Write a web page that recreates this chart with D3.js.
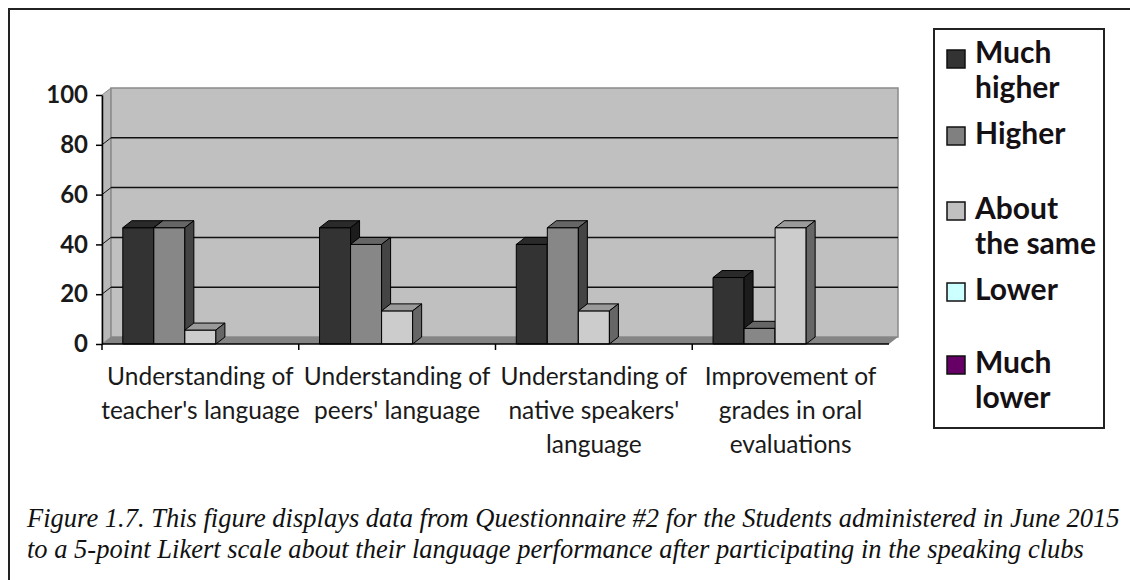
<!DOCTYPE html>
<html>
<head>
<meta charset="utf-8">
<script src="https://cdn.jsdelivr.net/npm/d3@7"></script>
<style>
  body { margin: 0; background: #fff; }
  svg { display: block; }
</style>
</head>
<body>
<div id="chart"></div>
<script>
// data (percent of students)
var categories = ["teacher", "peers", "native", "grades"];
var categoryLines = [
  ["Understanding of", "teacher's language"],
  ["Understanding of", "peers' language"],
  ["Understanding of", "native speakers'", "language"],
  ["Improvement of", "grades in oral", "evaluations"]
];
var seriesNames = ["Much higher", "Higher", "About the same", "Lower", "Much lower"];
var legendLines = [["Much", "higher"], ["Higher"], ["About", "the same"], ["Lower"], ["Much", "lower"]];
var muchHigher = [46.7, 46.7, 40, 26.7];
var higher = [46.7, 40, 46.7, 6.3];
var aboutSame = [5.6, 13.3, 13.3, 46.7];
var lower = [0, 0, 0, 0];
var muchLower = [0, 0, 0, 0];
var yTicks = [0, 20, 40, 60, 80, 100];
var caption = [
  "Figure 1.7. This figure displays data from Questionnaire #2 for the Students administered in June 2015",
  "to a 5-point Likert scale about their language performance after participating in the speaking clubs"
];

var seriesValues = [muchHigher, higher, aboutSame, lower, muchLower];
var faceColors = ["#333333", "#878787", "#cccccc", "#ccffff", "#660066"];
var topColors = ["#2a2a2a", "#666666", "#9a9a9a", "#99cccc", "#4d004d"];
var sideColors = ["#1c1c1c", "#444444", "#666666", "#80a0a0", "#330033"];
var legendColors = ["#333333", "#808080", "#c0c0c0", "#ccffff", "#660066"];

var W = 1130, H = 580;
var dx = 9, dy = -7; // 3D depth offset
var plotL = 102, plotR = 889, plotB = 344, plotT = 95;
var font = "Lato, 'Open Sans', sans-serif";

var svg = d3.select("#chart").append("svg")
  .attr("width", W).attr("height", H);

// outer frame (left and top edges visible)
svg.append("path")
  .attr("d", "M9,580 L9,9 L1130,9")
  .attr("fill", "none").attr("stroke", "#222").attr("stroke-width", 2);

var y = d3.scaleLinear().domain([0, 100]).range([plotB, plotT]);
var x0 = d3.scaleBand().domain(categories).range([plotL, plotR]).padding(0);
var x1 = d3.scaleBand().domain(seriesNames).range([0, x0.bandwidth()])
  .paddingInner(0).paddingOuter(0.67);

// side wall
svg.append("path")
  .attr("d", "M" + plotL + "," + plotB + " L" + plotL + "," + plotT +
    " L" + (plotL + dx) + "," + (plotT + dy) + " L" + (plotL + dx) + "," + (plotB + dy) + "Z")
  .attr("fill", "#b8b8b8").attr("stroke", "#8a8a8a");

// back wall
svg.append("rect")
  .attr("x", plotL + dx).attr("y", plotT + dy)
  .attr("width", plotR - plotL).attr("height", plotB - plotT)
  .attr("fill", "#c0c0c0").attr("stroke", "#8a8a8a").attr("stroke-width", 1.5);

// floor
svg.append("path")
  .attr("d", "M" + plotL + "," + plotB + " L" + plotR + "," + plotB +
    " L" + (plotR + dx) + "," + (plotB + dy) + " L" + (plotL + dx) + "," + (plotB + dy) + "Z")
  .attr("fill", "#858585");

// gridlines on back wall and side wall
var grid = svg.append("g");
yTicks.filter(d => d > 0 && d < 100).forEach(d => {
  grid.append("line")
    .attr("x1", plotL + dx).attr("x2", plotR + dx)
    .attr("y1", y(d) + dy).attr("y2", y(d) + dy)
    .attr("stroke", "#111").attr("stroke-width", 1.5);
  grid.append("line")
    .attr("x1", plotL).attr("x2", plotL + dx)
    .attr("y1", y(d)).attr("y2", y(d) + dy)
    .attr("stroke", "#111").attr("stroke-width", 1);
});

// bars
var bars = svg.append("g");
categories.forEach((c, ci) => {
  seriesNames.forEach((s, si) => {
    var v = seriesValues[si][ci];
    if (!v) return;
    var bx = x0(c) + x1(s), bw = x1.bandwidth();
    var yt = y(v), yb = y(0);
    var g = bars.append("g").attr("stroke", "#000").attr("stroke-width", 1)
      .attr("stroke-linejoin", "round");
    g.append("rect")
      .attr("x", bx).attr("y", yt).attr("width", bw).attr("height", yb - yt)
      .attr("fill", faceColors[si]);
    g.append("path")
      .attr("d", "M" + bx + "," + yt + " L" + (bx + dx) + "," + (yt + dy) +
        " L" + (bx + bw + dx) + "," + (yt + dy) + " L" + (bx + bw) + "," + yt + "Z")
      .attr("fill", topColors[si]);
    g.append("path")
      .attr("d", "M" + (bx + bw) + "," + yt + " L" + (bx + bw + dx) + "," + (yt + dy) +
        " L" + (bx + bw + dx) + "," + (yb + dy) + " L" + (bx + bw) + "," + yb + "Z")
      .attr("fill", sideColors[si]);
  });
});

// y axis
var yAxis = svg.append("g")
  .attr("transform", "translate(" + plotL + ",0)")
  .call(d3.axisLeft(y).tickValues(yTicks).tickSize(6).tickSizeOuter(0).tickPadding(8));
yAxis.select(".domain").attr("stroke", "#000").attr("stroke-width", 1.5);
yAxis.selectAll(".tick line").attr("stroke", "#000").attr("stroke-width", 1.5);
yAxis.selectAll("text")
  .attr("font-family", font)
  .attr("font-weight", "bold").attr("font-size", 24).attr("fill", "#1a1a1a");

// x axis line and category boundary ticks
svg.append("line")
  .attr("x1", plotL).attr("x2", plotR).attr("y1", plotB).attr("y2", plotB)
  .attr("stroke", "#000").attr("stroke-width", 1.5);
categories.forEach(c => {
  svg.append("line")
    .attr("x1", x0(c)).attr("x2", x0(c)).attr("y1", plotB).attr("y2", plotB + 6)
    .attr("stroke", "#000").attr("stroke-width", 1.5);
});

// category labels
categories.forEach((c, ci) => {
  var cx = x0(c) + x0.bandwidth() / 2;
  var t = svg.append("text")
    .attr("x", cx).attr("y", 385)
    .attr("text-anchor", "middle")
    .attr("font-family", font)
    .attr("font-size", 24.5).attr("fill", "#1a1a1a");
  categoryLines[ci].forEach((line, li) => {
    t.append("tspan").attr("x", cx)
      .attr("dy", li === 0 ? 0 : 34).text(line);
  });
});

// legend
var legend = svg.append("g");
legend.append("rect")
  .attr("x", 934).attr("y", 29).attr("width", 170).attr("height", 399)
  .attr("fill", "#fff").attr("stroke", "#222").attr("stroke-width", 2);
var legendTops = [50, 127, 202, 283, 356];
seriesNames.forEach((s, si) => {
  legend.append("rect")
    .attr("x", 947).attr("y", legendTops[si]).attr("width", 18).attr("height", 18)
    .attr("fill", legendColors[si]).attr("stroke", "#111").attr("stroke-width", 1.5);
  var t = legend.append("text")
    .attr("x", 975).attr("y", legendTops[si] + (si === 0 ? 13 : 17))
    .attr("font-family", font)
    .attr("font-weight", "bold").attr("font-size", 30).attr("fill", "#141014");
  legendLines[si].forEach((line, li) => {
    t.append("tspan").attr("x", 975).attr("dy", li === 0 ? 0 : 35).text(line);
  });
});

// caption
caption.forEach((line, i) => {
  svg.append("text")
    .attr("x", 27).attr("y", 527 + i * 31)
    .attr("font-family", "'Liberation Serif', 'DejaVu Serif', serif")
    .attr("font-style", "italic").attr("font-size", 26.5).attr("fill", "#111")
    .text(line);
});
</script>
</body>
</html>
